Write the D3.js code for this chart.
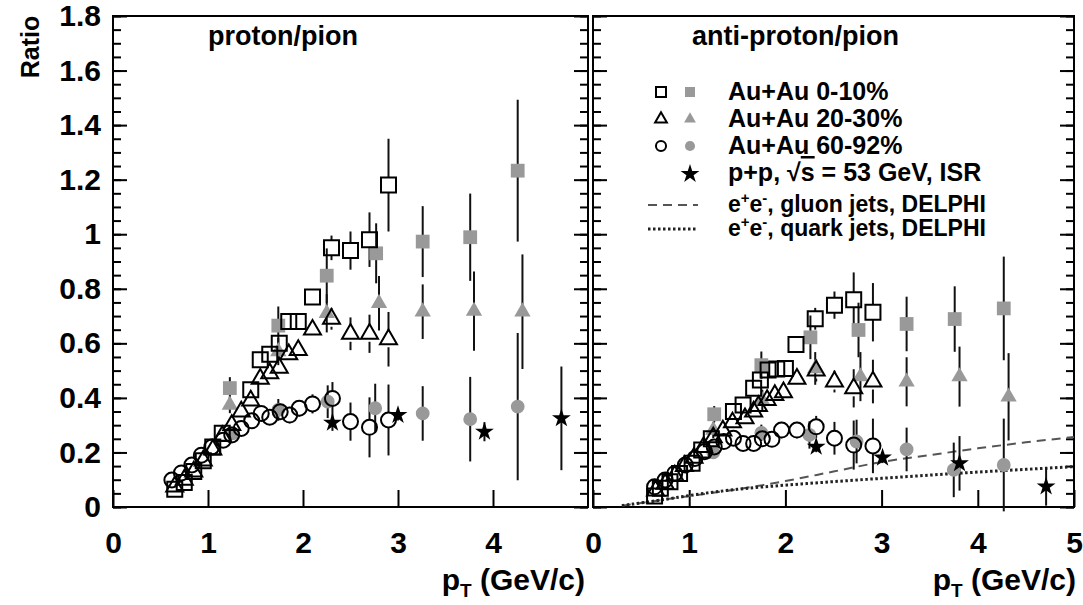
<!DOCTYPE html>
<html>
<head>
<meta charset="utf-8">
<script src="https://cdnjs.cloudflare.com/ajax/libs/d3/7.8.5/d3.min.js"></script>
<style>
  body { margin: 0; background: #fff; }
  svg { font-family: 'Liberation Sans', Arial, Helvetica, sans-serif; }
  .axis path { display: none; }
  .axis line { stroke: #000; stroke-width: 2; }
  .axis text { font-size: 30px; font-weight: bold; fill: #000; }
</style>
</head>
<body>
<svg id="chart" width="1083" height="605"></svg>
<script>
'use strict';

// [pT, ratio, error]
var protonOpenSq = [ [0.65,0.065,0.005],[0.75,0.09,0.005],[0.85,0.13,0.006],[0.95,0.17,0.007],[1.05,0.22,0.008],
  [1.15,0.27,0.009],[1.45,0.43,0.012],[1.55,0.54,0.013],[1.65,0.56,0.014],[1.75,0.60,0.016],[1.85,0.68,0.018],
  [1.95,0.68,0.02],[2.1,0.77,0.025],[2.3,0.95,0.045],[2.5,0.94,0.07],[2.7,0.98,0.1],[2.9,1.18,0.17] ];
var protonGraySq = [ [1.23,0.436,0.04],[1.74,0.665,0.07],[2.25,0.848,0.1],[2.77,0.93,0.11],[3.26,0.973,0.13],
  [3.76,0.989,0.16],[4.26,1.233,0.26] ];
var protonOpenTri = [ [0.65,0.075,0.005],[0.75,0.10,0.005],[0.85,0.13,0.006],[0.95,0.17,0.007],[1.05,0.21,0.008],
  [1.15,0.26,0.009],[1.25,0.30,0.01],[1.35,0.35,0.011],[1.45,0.39,0.012],[1.55,0.47,0.013],[1.65,0.49,0.014],
  [1.75,0.51,0.015],[1.85,0.56,0.017],[1.95,0.575,0.02],[2.1,0.65,0.025],[2.3,0.69,0.04],[2.5,0.635,0.06],
  [2.7,0.635,0.07],[2.9,0.615,0.1] ];
var protonGrayTri = [ [1.23,0.374,0.03],[1.74,0.57,0.05],[2.25,0.71,0.07],[2.8,0.747,0.1],[3.26,0.716,0.1],
  [3.8,0.718,0.145],[4.31,0.716,0.21] ];
var protonOpenCirc = [ [0.62,0.099,0.005],[0.72,0.125,0.005],[0.83,0.154,0.006],[0.93,0.19,0.007],[1.04,0.22,0.008],
  [1.16,0.245,0.01],[1.25,0.264,0.01],[1.35,0.288,0.012],[1.46,0.316,0.014],[1.56,0.343,0.018],[1.65,0.329,0.025],
  [1.76,0.349,0.03],[1.86,0.337,0.03],[1.96,0.362,0.03],[2.1,0.378,0.035],[2.31,0.398,0.06],[2.5,0.313,0.07],
  [2.7,0.292,0.11],[2.9,0.319,0.13] ];
var protonGrayCirc = [ [1.26,0.27,0.02],[1.74,0.356,0.04],[2.26,0.386,0.06],[2.76,0.362,0.09],[3.26,0.343,0.1],
  [3.76,0.322,0.155],[4.26,0.368,0.27] ];
var protonPP = [ [2.31,0.309,0.03],[3.0,0.337,0.02],[3.91,0.276,0.035],[4.72,0.325,0.19] ];

var pbarOpenSq = [ [0.64,0.04,0.004],[0.70,0.069,0.004],[0.8,0.093,0.005],[0.9,0.123,0.005],[1.03,0.16,0.006],
  [1.13,0.209,0.007],[1.23,0.25,0.008],[1.46,0.35,0.01],[1.56,0.374,0.011],[1.67,0.435,0.012],[1.74,0.466,0.013],
  [1.82,0.502,0.014],[1.91,0.506,0.015],[2.0,0.508,0.016],[2.11,0.596,0.02],[2.31,0.69,0.04],[2.51,0.74,0.05],
  [2.71,0.76,0.1],[2.91,0.714,0.107] ];
var pbarGraySq = [ [1.26,0.34,0.03],[1.75,0.52,0.05],[2.26,0.622,0.08],[2.76,0.649,0.1],[3.26,0.671,0.1],
  [3.76,0.689,0.12],[4.27,0.728,0.19] ];
var pbarOpenTri = [ [0.65,0.06,0.004],[0.75,0.085,0.004],[0.85,0.115,0.005],[0.95,0.15,0.005],[1.05,0.18,0.006],
  [1.15,0.22,0.007],[1.25,0.255,0.008],[1.35,0.28,0.009],[1.45,0.31,0.01],[1.58,0.325,0.011],[1.67,0.35,0.012],
  [1.72,0.37,0.012],[1.81,0.392,0.013],[1.89,0.41,0.014],[1.98,0.42,0.015],[2.12,0.47,0.02],[2.32,0.50,0.04],
  [2.51,0.46,0.04],[2.71,0.435,0.07],[2.91,0.46,0.08] ];
var pbarGrayTri = [ [1.25,0.282,0.03],[1.76,0.39,0.04],[2.31,0.508,0.06],[2.78,0.478,0.09],[3.26,0.459,0.09],
  [3.81,0.478,0.11],[4.32,0.404,0.16] ];
var pbarOpenCirc = [ [0.64,0.074,0.004],[0.75,0.099,0.004],[0.85,0.123,0.005],[0.96,0.154,0.005],[1.06,0.178,0.006],
  [1.16,0.203,0.007],[1.26,0.22,0.008],[1.36,0.24,0.009],[1.46,0.252,0.01],[1.56,0.233,0.011],[1.67,0.233,0.012],
  [1.76,0.25,0.02],[1.86,0.248,0.025],[1.96,0.282,0.03],[2.12,0.282,0.03],[2.32,0.294,0.04],[2.51,0.252,0.06],
  [2.71,0.227,0.09],[2.91,0.224,0.1] ];
var pbarGrayCirc = [ [1.25,0.2,0.02],[1.75,0.272,0.03],[2.25,0.264,0.05],[2.74,0.24,0.08],[3.26,0.211,0.08],
  [3.75,0.136,0.1],[4.27,0.154,0.17] ];
var pbarPP = [ [2.32,0.221,0.02],[3.01,0.181,0.02],[3.81,0.16,0.1],[4.71,0.075,0.07] ];

// DELPHI e+e- curves [pT, ratio]
var gluonJets = [ [0.3,0.005],[0.5,0.015],[1.0,0.04],[1.5,0.065],[2.0,0.095],[2.5,0.13],[3.0,0.165],
  [3.5,0.19],[4.0,0.215],[4.5,0.237],[5.0,0.257] ];
var quarkJets = [ [0.3,0.005],[0.5,0.015],[0.75,0.028],[1.0,0.042],[1.5,0.065],[2.0,0.08],[2.5,0.093],
  [3.0,0.105],[3.5,0.117],[4.0,0.128],[4.5,0.138],[5.0,0.148] ];

var yTicks = [ 0, 0.2, 0.4, 0.6, 0.8, 1, 1.2, 1.4, 1.6, 1.8 ];
var xTicksLeft = [ 0, 1, 2, 3, 4 ];
var xTicksRight = [ 0, 1, 2, 3, 4, 5 ];
var legendLabels = [ 'Au+Au 0-10%', 'Au+Au 20-30%', 'Au+Au 60-92%' ];

var svg = d3.select( '#chart' );
var gray = '#999999';

var y = d3.scaleLinear().domain( [ 0, 1.8 ] ).range( [ 507, 16 ] );
var xLeft = d3.scaleLinear().domain( [ 0, 5 ] ).range( [ 113, 588 ] );
var xRight = d3.scaleLinear().domain( [ 0, 5 ] ).range( [ 593, 1074 ] );

var shapes = {
  square: { type: d3.symbolSquare, size: 225, half: 7.5 },
  graySquare: { type: d3.symbolSquare, size: 190, half: 7 },
  tri: { type: d3.symbolTriangle, size: 125, half: 8 },
  grayTri: { type: d3.symbolTriangle, size: 115, half: 8 },
  circle: { type: d3.symbolCircle, size: 177, half: 7.5 },
  grayCircle: { type: d3.symbolCircle, size: 150, half: 7 },
  star: { type: d3.symbolStar, size: 110, half: 8 }
};

function drawPanel( x, xTicks, labelLast ) {
  var g = svg.append( 'g' );
  var x0 = x.range()[ 0 ], x1 = x.range()[ 1 ];
  var minor = d3.range( 0, 1.8001, 0.05 );

  g.append( 'g' ).attr( 'class', 'axis' )
      .attr( 'transform', 'translate(' + x0 + ',0)' )
      .call( d3.axisLeft( y ).tickValues( minor ).tickSize( -8 ).tickFormat( '' ) );
  g.append( 'g' ).attr( 'class', 'axis' )
      .attr( 'transform', 'translate(' + x1 + ',0)' )
      .call( d3.axisRight( y ).tickValues( minor ).tickSize( -8 ).tickFormat( '' ) );
  g.append( 'g' ).attr( 'class', 'axis' )
      .attr( 'transform', 'translate(' + x1 + ',0)' )
      .call( d3.axisRight( y ).tickValues( yTicks ).tickSize( -14 ).tickFormat( '' ) );
  g.append( 'g' ).attr( 'class', 'axis' )
      .attr( 'transform', 'translate(' + x0 + ',0)' )
      .call( d3.axisLeft( y ).tickValues( yTicks ).tickSize( -14 ).tickPadding( 12 )
        .tickFormat( labelLast ? function( d ) { return String( +d.toFixed( 1 ) ); } : '' ) );

  g.append( 'g' ).attr( 'class', 'axis' )
      .attr( 'transform', 'translate(0,' + y( 0 ) + ')' )
      .call( d3.axisBottom( x ).tickValues( xTicks ).tickSize( -17 ).tickPadding( 25 )
        .tickFormat( d3.format( 'd' ) ) );

  g.append( 'rect' )
      .attr( 'x', x0 ).attr( 'y', y( 1.8 ) )
      .attr( 'width', x1 - x0 ).attr( 'height', y( 0 ) - y( 1.8 ) )
      .attr( 'fill', 'none' ).attr( 'stroke', '#000' ).attr( 'stroke-width', 2 );
  return g;
}

function drawErrors( g, x, data, shape, gap ) {
  var h = gap ? shapes[ shape ].half : 0;
  data.forEach( function( d ) {
    var cx = x( d[ 0 ] ), cy = y( d[ 1 ] );
    var top = y( d[ 1 ] + d[ 2 ] ), bot = y( d[ 1 ] - d[ 2 ] );
    if ( cy - h > top ) {
      g.append( 'line' ).attr( 'x1', cx ).attr( 'x2', cx ).attr( 'y1', top ).attr( 'y2', cy - h )
          .attr( 'stroke', '#111' ).attr( 'stroke-width', 2 );
    }
    if ( bot > cy + h ) {
      g.append( 'line' ).attr( 'x1', cx ).attr( 'x2', cx ).attr( 'y1', cy + h ).attr( 'y2', bot )
          .attr( 'stroke', '#111' ).attr( 'stroke-width', 2 );
    }
  } );
}

function drawMarkers( g, x, data, shape, style ) {
  var s = shapes[ shape ];
  g.selectAll( null )
      .data( data )
    .enter().append( 'path' )
      .attr( 'd', d3.symbol().type( s.type ).size( s.size ) )
      .attr( 'transform', function( d ) { return 'translate(' + x( d[ 0 ] ) + ',' + y( d[ 1 ] ) + ')'; } )
      .attr( 'fill', style === 'open' ? 'none' : ( style === 'gray' ? gray : '#000' ) )
      .attr( 'stroke', style === 'open' ? '#000' : 'none' )
      .attr( 'stroke-width', 2 );
}

function drawCurve( g, x, data, dash, width, color ) {
  var line = d3.line()
      .x( function( d ) { return x( d[ 0 ] ); } )
      .y( function( d ) { return y( d[ 1 ] ); } )
      .curve( d3.curveMonotoneX );
  g.append( 'path' )
      .datum( data )
      .attr( 'd', line )
      .attr( 'fill', 'none' )
      .attr( 'stroke', color )
      .attr( 'stroke-width', width )
      .style( 'stroke-dasharray', dash );
}

function drawData( g, x, sets ) {
  drawErrors( g, x, sets.graySq, 'graySquare', false );
  drawErrors( g, x, sets.grayTri, 'grayTri', false );
  drawErrors( g, x, sets.grayCirc, 'grayCircle', false );
  drawErrors( g, x, sets.openSq, 'square', true );
  drawErrors( g, x, sets.openTri, 'tri', true );
  drawErrors( g, x, sets.openCirc, 'circle', true );
  drawErrors( g, x, sets.pp, 'star', false );
  drawMarkers( g, x, sets.graySq, 'graySquare', 'gray' );
  drawMarkers( g, x, sets.grayTri, 'grayTri', 'gray' );
  drawMarkers( g, x, sets.grayCirc, 'grayCircle', 'gray' );
  drawMarkers( g, x, sets.openSq, 'square', 'open' );
  drawMarkers( g, x, sets.openTri, 'tri', 'open' );
  drawMarkers( g, x, sets.openCirc, 'circle', 'open' );
  drawMarkers( g, x, sets.pp, 'star', 'black' );
}

var left = drawPanel( xLeft, xTicksLeft, true );
var right = drawPanel( xRight, xTicksRight, false );

drawData( left, xLeft, { openSq: protonOpenSq, graySq: protonGraySq, openTri: protonOpenTri,
  grayTri: protonGrayTri, openCirc: protonOpenCirc, grayCirc: protonGrayCirc, pp: protonPP } );

drawCurve( right, xRight, gluonJets, '9, 6', 2, '#555' );
drawCurve( right, xRight, quarkJets, '2.5, 2.5', 3, '#222' );

drawData( right, xRight, { openSq: pbarOpenSq, graySq: pbarGraySq, openTri: pbarOpenTri,
  grayTri: pbarGrayTri, openCirc: pbarOpenCirc, grayCirc: pbarGrayCirc, pp: pbarPP } );

// panel titles
svg.append( 'text' ).attr( 'x', 208 ).attr( 'y', 45 )
    .style( 'font-size', '27px' ).style( 'font-weight', 'bold' ).text( 'proton/pion' );
svg.append( 'text' ).attr( 'x', 692 ).attr( 'y', 45 )
    .style( 'font-size', '27px' ).style( 'font-weight', 'bold' ).text( 'anti-proton/pion' );

// axis titles
svg.append( 'text' )
    .attr( 'transform', 'translate(39,47) rotate(-90)' )
    .attr( 'text-anchor', 'middle' )
    .style( 'font-size', '25px' ).style( 'font-weight', 'bold' )
    .text( 'Ratio' );

[ [ 585, xLeft ], [ 1076, xRight ] ].forEach( function( p ) {
  var t = svg.append( 'text' )
      .attr( 'x', p[ 0 ] ).attr( 'y', 590 )
      .attr( 'text-anchor', 'end' )
      .style( 'font-size', '30px' ).style( 'font-weight', 'bold' );
  t.append( 'tspan' ).text( 'p' );
  t.append( 'tspan' ).attr( 'dy', 7 ).style( 'font-size', '19px' ).text( 'T' );
  t.append( 'tspan' ).attr( 'dy', -7 ).text( ' (GeV/c)' );
} );

// legend
var legend = svg.append( 'g' );
var legendShapes = [ [ 'square', 'graySquare' ], [ 'tri', 'grayTri' ], [ 'circle', 'grayCircle' ] ];
var legendSizes = { square: 100, graySquare: 100, tri: 60, grayTri: 60, circle: 80, grayCircle: 80 };

legendLabels.forEach( function( label, i ) {
  var yy = 100 + i * 27;
  legend.append( 'path' )
      .attr( 'd', d3.symbol().type( shapes[ legendShapes[ i ][ 0 ] ].type ).size( legendSizes[ legendShapes[ i ][ 0 ] ] ) )
      .attr( 'transform', 'translate(661,' + ( yy - 8 ) + ')' )
      .attr( 'fill', 'none' ).attr( 'stroke', '#000' ).attr( 'stroke-width', 2 );
  legend.append( 'path' )
      .attr( 'd', d3.symbol().type( shapes[ legendShapes[ i ][ 1 ] ].type ).size( legendSizes[ legendShapes[ i ][ 1 ] ] ) )
      .attr( 'transform', 'translate(690,' + ( yy - 8 ) + ')' )
      .attr( 'fill', gray );
  legend.append( 'text' ).attr( 'x', 728 ).attr( 'y', yy )
      .style( 'font-size', '25px' ).style( 'font-weight', 'bold' ).text( label );
} );

legend.append( 'path' )
    .attr( 'd', d3.symbol().type( d3.symbolStar ).size( 110 ) )
    .attr( 'transform', 'translate(690,174)' )
    .attr( 'fill', '#000' );
var ppText = legend.append( 'text' ).attr( 'x', 728 ).attr( 'y', 181 )
    .style( 'font-size', '25px' ).style( 'font-weight', 'bold' );
ppText.append( 'tspan' ).text( 'p+p, \u221A' );
ppText.append( 'tspan' ).style( 'text-decoration', 'overline' ).text( 's' );
ppText.append( 'tspan' ).text( ' = 53 GeV, ISR' );

[ [ 'gluon', '9, 6', 2, '#555', 212 ], [ 'quark', '2.5, 2.5', 3, '#222', 236 ] ].forEach( function( r ) {
  legend.append( 'line' )
      .attr( 'x1', 648 ).attr( 'x2', 698 )
      .attr( 'y1', r[ 4 ] - 7 ).attr( 'y2', r[ 4 ] - 7 )
      .attr( 'stroke', r[ 3 ] ).attr( 'stroke-width', r[ 2 ] )
      .style( 'stroke-dasharray', r[ 1 ] );
  var t = legend.append( 'text' ).attr( 'x', 728 ).attr( 'y', r[ 4 ] )
      .style( 'font-size', '23px' ).style( 'font-weight', 'bold' );
  t.append( 'tspan' ).text( 'e' );
  t.append( 'tspan' ).attr( 'dy', -9 ).style( 'font-size', '15px' ).text( '+' );
  t.append( 'tspan' ).attr( 'dy', 9 ).text( 'e' );
  t.append( 'tspan' ).attr( 'dy', -9 ).style( 'font-size', '15px' ).text( '-' );
  t.append( 'tspan' ).attr( 'dy', 9 ).text( ', ' + r[ 0 ] + ' jets, DELPHI' );
} );
</script>
</body>
</html>
